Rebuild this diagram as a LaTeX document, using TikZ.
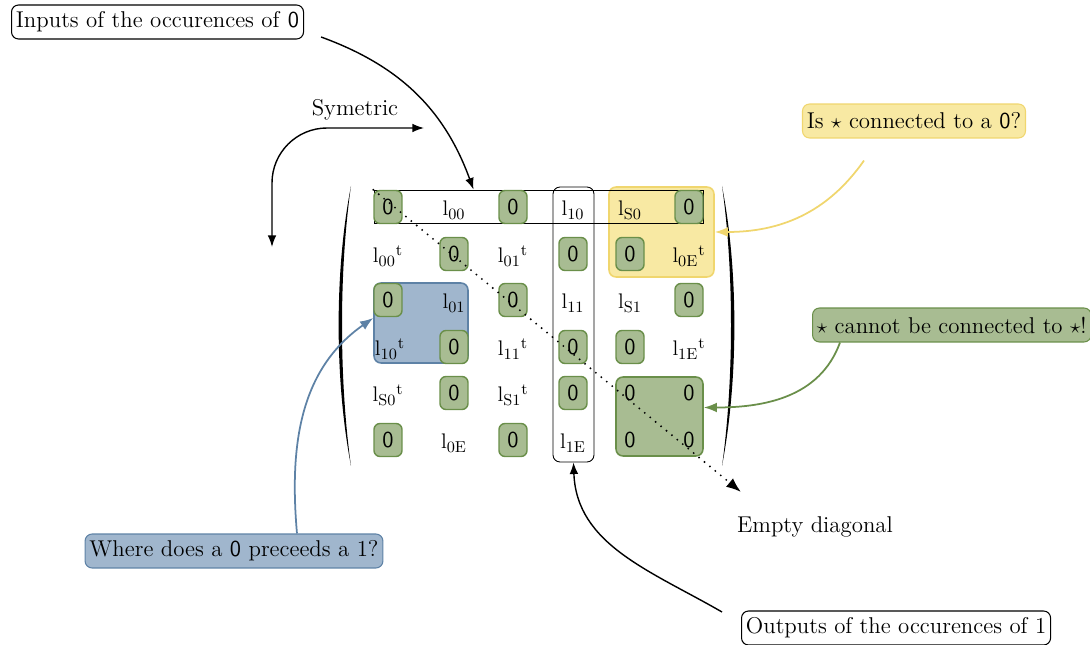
\documentclass[tikz,border=0pt]{standalone}
\usepackage{amsmath}
\usepackage{amssymb}
\usetikzlibrary{arrows.meta, positioning}
\definecolor{zerofill}{HTML}{A8BC92}
\definecolor{zerodraw}{HTML}{6A8F4A}
\definecolor{yelfill}{HTML}{F8E9A3}
\definecolor{yeldraw}{HTML}{F0D66E}
\definecolor{bluefill}{HTML}{A0B6CD}
\definecolor{bluedraw}{HTML}{5E82A6}
\newcommand{\lsub}[1]{$\mathrm{l}_{\mathrm{#1}}$}
\newcommand{\lsubt}[1]{$\mathrm{l}_{\mathrm{#1}}{}^{\mathrm{t}}$}
\newcommand{\zer}{\textsf{0}}

\begin{document}
\begin{tikzpicture}[>=Latex, x=0.02cm, y=-0.02cm, font=\fontsize{13}{15}\selectfont]
  \tikzset{
    zero/.style={draw=zerodraw, fill=zerofill, line width=0.8pt,
      rounded corners=0.12cm, minimum width=0.56cm, minimum height=0.66cm,
      inner sep=0pt},
    entry/.style={inner sep=0pt, anchor=base},
    callout/.style={draw, rounded corners=4pt, inner sep=2.5pt,
      minimum height=0.68cm, line width=0.6pt},
    zone/.style={rounded corners=0.14cm, line width=0.9pt, inner sep=0pt},
  }
  \useasboundingbox (0,0) rectangle (1090,645);

  % highlighted blocks
  \node[zone, draw=yeldraw, fill=yelfill, minimum width=2.1cm,
    minimum height=1.8cm] (Y) at (661.5,232) {};
  \node[zone, draw=bluedraw, fill=bluefill, minimum width=1.88cm,
    minimum height=1.6cm] (B) at (421,323) {};
  \node[zone, draw=zerodraw, fill=zerofill, minimum width=1.74cm,
    minimum height=1.58cm] (G) at (659.5,416.5) {};

  % first row and fourth column
  \node[draw, line width=0.5pt, inner sep=0pt, minimum width=6.58cm,
    minimum height=0.66cm] (row) at (538.5,206.5) {};
  \node[draw, line width=0.5pt, rounded corners=0.14cm, inner sep=0pt,
    minimum width=0.82cm, minimum height=5.5cm] (col) at (573.5,324.5) {};

  % brackets
  \fill (351,186) .. controls (334.5,270) and (334.5,380) .. (351,466)
    .. controls (339,380) and (339,270) .. (351,186);
  \fill (722,186) .. controls (738.5,270) and (738.5,380) .. (722,466)
    .. controls (734,380) and (734,270) .. (722,186);

  % row 1
  \node[zero] (m-1-1) at (388,207) {\zer};
  \node[entry] (m-1-2) at (454,216) {\lsub{00}};
  \node[zero] (m-1-3) at (513,207) {\zer};
  \node[entry] (m-1-4) at (573,216) {\lsub{10}};
  \node[entry] (m-1-5) at (630,216) {\lsub{S0}};
  \node[zero] (m-1-6) at (689,207) {\zer};
  % row 2
  \node[entry] (m-2-1) at (388,263) {\lsubt{00}};
  \node[zero] (m-2-2) at (454,254) {\zer};
  \node[entry] (m-2-3) at (513,263) {\lsubt{01}};
  \node[zero] (m-2-4) at (573,254) {\zer};
  \node[zero] (m-2-5) at (630,254) {\zer};
  \node[entry] (m-2-6) at (689,263) {\lsubt{0E}};
  % row 3
  \node[zero] (m-3-1) at (388,300) {\zer};
  \node[entry] (m-3-2) at (454,309) {\lsub{01}};
  \node[zero] (m-3-3) at (513,300) {\zer};
  \node[entry] (m-3-4) at (573,309) {\lsub{11}};
  \node[entry] (m-3-5) at (630,309) {\lsub{S1}};
  \node[zero] (m-3-6) at (689,300) {\zer};
  % row 4
  \node[entry] (m-4-1) at (390,356) {\lsubt{10}};
  \node[zero] (m-4-2) at (454,347) {\zer};
  \node[entry] (m-4-3) at (513,356) {\lsubt{11}};
  \node[zero] (m-4-4) at (573,347) {\zer};
  \node[zero] (m-4-5) at (630,347) {\zer};
  \node[entry] (m-4-6) at (689,356) {\lsubt{1E}};
  % row 5
  \node[entry] (m-5-1) at (388,402) {\lsubt{S0}};
  \node[zero] (m-5-2) at (454,393) {\zer};
  \node[entry] (m-5-3) at (513,402) {\lsubt{S1}};
  \node[zero] (m-5-4) at (573,393) {\zer};
  \node (m-5-5) at (630,393) {\zer};
  \node (m-5-6) at (689,393) {\zer};
  % row 6
  \node[zero] (m-6-1) at (388,440) {\zer};
  \node[entry] (m-6-2) at (454,449) {\lsub{0E}};
  \node[zero] (m-6-3) at (513,440) {\zer};
  \node[entry] (m-6-4) at (573,449) {\lsub{1E}};
  \node (m-6-5) at (630,440) {\zer};
  \node (m-6-6) at (689,440) {\zer};

  % annotations
  \node[callout, anchor=west] (In) at (11,22)
    {Inputs of the occurences of \zer};
  \node[callout, anchor=west] (Out) at (741,628)
    {Outputs of the occurences of 1};
  \node[callout, draw=yeldraw, fill=yelfill] (Isc) at (914,121)
    {Is $\star$ connected to a \zer?};
  \node[callout, draw=zerodraw, fill=zerofill, anchor=west] (Cn) at (812,325)
    {$\star$ cannot be connected to $\star$!};
  \node[callout, draw=bluedraw, fill=bluefill] (Wh) at (234,551)
    {Where does a \zer\ preceeds a 1?};
  \node (Sym) at (355,110) {Symetric};
  \node (Diag) at (815,527) {Empty diagonal};
  \coordinate (symA) at (272,247);
  \coordinate (symB) at (424,128);
  \coordinate (diagEnd) at (741,492);

  \draw[->, thick] ([xshift=0.34cm, yshift=-0.3cm]In.east)
    to[out=-20, in=110] ([xshift=-1.3cm]row.north);
  \draw[->, thick] ([xshift=-0.38cm, yshift=0.32cm]Out.west)
    to[out=150, in=-88] (col.south);
  \draw[<->, thick, rounded corners=1.1cm] (symA) |- (symB);
  \draw[->, yeldraw, line width=1pt] ([xshift=-1cm, yshift=-0.44cm]Isc.south)
    to[out=235, in=0] (Y.east);
  \draw[->, zerodraw, line width=1pt] ([xshift=0.56cm]Cn.south west)
    to[out=250, in=0] ([yshift=0.18cm]G.east);
  \draw[->, bluedraw, line width=1pt] ([xshift=1.26cm]Wh.north)
    to[out=95, in=215] ([yshift=0.1cm]B.west);

  % empty diagonal
  \draw[->, line width=1.2pt, dash pattern=on 0pt off 4pt, line cap=round]
    (m-1-1.north west) -- (diagEnd);
\end{tikzpicture}
\end{document}
